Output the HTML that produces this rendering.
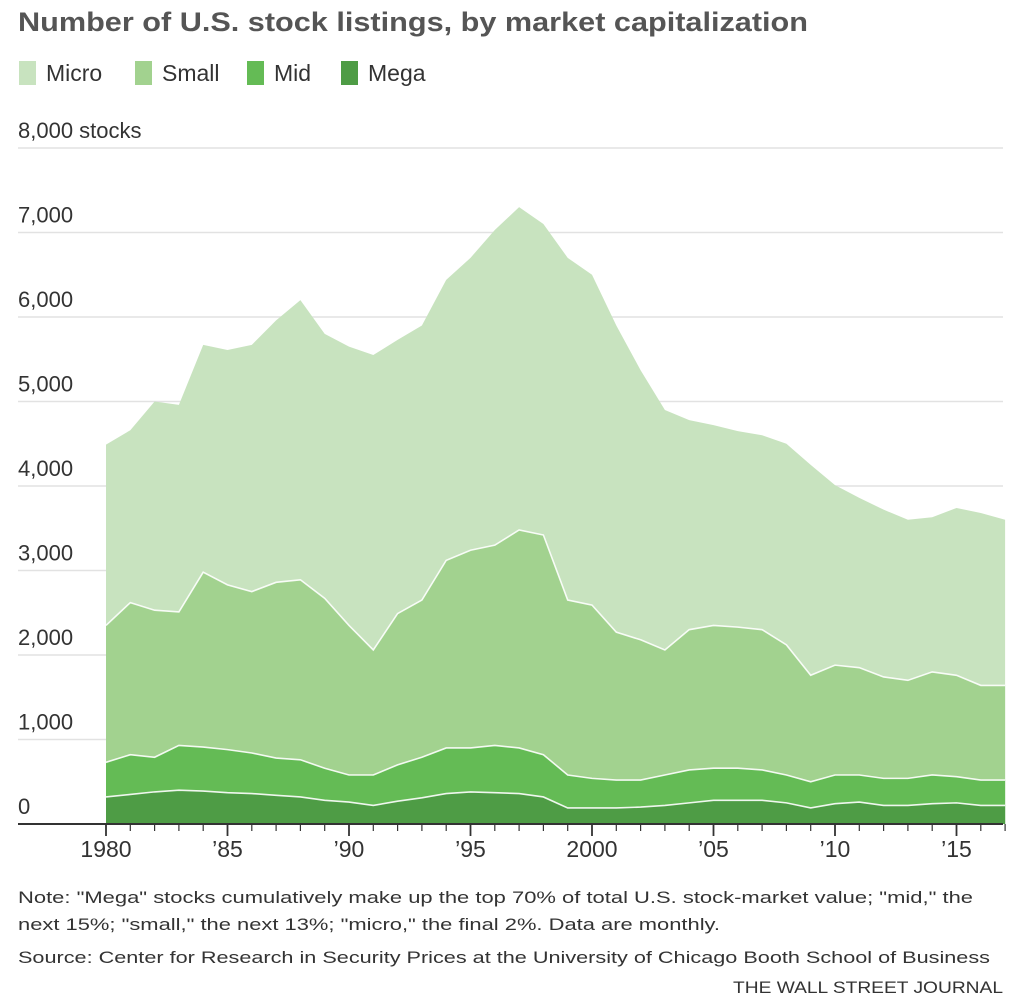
<!DOCTYPE html>
<html><head><meta charset="utf-8"><style>
html,body{margin:0;padding:0;background:#fff;}
svg{display:block;font-family:"Liberation Sans",sans-serif;}
</style></head><body>
<svg id="chart" width="1024" height="1005" viewBox="0 0 1024 1005">
<text x="18" y="31" font-size="27" font-weight="bold" fill="#555" textLength="790" lengthAdjust="spacingAndGlyphs">Number of U.S. stock listings, by market capitalization</text>
<g>
<rect x="19" y="61" width="17" height="24" fill="#c8e3bf"/>
<text x="46" y="81" font-size="23" fill="#333">Micro</text>
<rect x="135" y="61" width="17" height="24" fill="#a2d28f"/>
<text x="162" y="81" font-size="23" fill="#333">Small</text>
<rect x="247" y="61" width="17" height="24" fill="#64bb55"/>
<text x="274" y="81" font-size="23" fill="#333">Mid</text>
<rect x="341" y="61" width="17" height="24" fill="#4e9c45"/>
<text x="368" y="81" font-size="23" fill="#333">Mega</text>
</g>
<g id="grid"></g>
<g id="areas"></g>
<g id="axis"></g>
<g font-size="17" fill="#333">
<text x="18" y="903" textLength="955" lengthAdjust="spacingAndGlyphs">Note: "Mega" stocks cumulatively make up the top 70% of total U.S. stock-market value; "mid," the</text>
<text x="18" y="930" textLength="702" lengthAdjust="spacingAndGlyphs">next 15%; "small," the next 13%; "micro," the final 2%. Data are monthly.</text>
<text x="18" y="963" textLength="972" lengthAdjust="spacingAndGlyphs">Source: Center for Research in Security Prices at the University of Chicago Booth School of Business</text>
<text x="1003" y="993" text-anchor="end" textLength="270" lengthAdjust="spacingAndGlyphs">THE WALL STREET JOURNAL</text>
</g>
</svg>
<script>
const years = [1980,1981,1982,1983,1984,1985,1986,1987,1988,1989,1990,1991,1992,1993,1994,1995,1996,1997,1998,1999,2000,2001,2002,2003,2004,2005,2006,2007,2008,2009,2010,2011,2012,2013,2014,2015,2016,2017];
// cumulative stack tops
const totalLevel = [4490,4660,5000,4960,5670,5610,5670,5960,6200,5800,5650,5550,5730,5900,6440,6700,7030,7300,7100,6700,6500,5900,5370,4900,4780,4720,4650,4600,4500,4250,4010,3860,3720,3600,3630,3740,3680,3600];
const smallLevel = [2350,2620,2530,2510,2980,2830,2750,2860,2890,2670,2350,2060,2490,2650,3120,3240,3300,3480,3420,2650,2590,2270,2180,2060,2300,2350,2330,2300,2120,1760,1880,1850,1740,1700,1800,1760,1640,1640];
const midLevel = [730,820,790,930,910,880,840,780,760,660,580,580,700,790,900,900,930,900,820,580,540,520,520,580,640,660,660,640,580,500,580,580,540,540,580,560,520,520];
const megaLevel = [320,350,380,400,390,370,360,340,320,280,260,220,270,310,360,380,370,360,320,190,190,190,200,220,250,280,280,280,250,190,240,260,220,220,240,250,220,220];
const yTicks = [0,1000,2000,3000,4000,5000,6000,7000,8000];
const yTickLabels = ["0","1,000","2,000","3,000","4,000","5,000","6,000","7,000","8,000 stocks"];
const xTicks = [1980,1985,1990,1995,2000,2005,2010,2015];
const xTickLabels = ["1980","\u201985","\u201990","\u201995","2000","\u201905","\u201910","\u201915"];

const NS="http://www.w3.org/2000/svg";
const x0=106, pxPerYear=24.3, y0=824, pxPerUnit=84.5/1000;
function xs(yr){return x0+(yr-1980)*pxPerYear;}
function ys(v){return y0-v*pxPerUnit;}
function mk(tag,attrs,parent){const e=document.createElementNS(NS,tag);for(const k in attrs)e.setAttribute(k,attrs[k]);parent.appendChild(e);return e;}

const grid=document.getElementById('grid');
yTicks.forEach((t,i)=>{
  const l=mk('line',{x1:18,x2:1003,y1:ys(t),y2:ys(t),stroke:'#e2e2e2','stroke-width':1.5},grid);
  
  
  const tx=mk('text',{x:18,y:ys(t)-10,'font-size':22,fill:'#333'},grid);
  tx.textContent=yTickLabels[i];
  
  
});

const areas=document.getElementById('areas');
const layers=[
  {name:'micro',top:totalLevel,color:'#c8e3bf'},
  {name:'small',top:smallLevel,color:'#a2d28f'},
  {name:'mid',top:midLevel,color:'#64bb55'},
  {name:'mega',top:megaLevel,color:'#4e9c45'}
];
layers.forEach(L=>{
  let d='M'+xs(years[0])+','+ys(0);
  years.forEach((yr,i)=>{d+=' L'+xs(yr)+','+ys(L.top[i]);});
  d+=' L'+xs(years[years.length-1])+','+ys(0)+' Z';
  const p=mk('path',{d:d,fill:L.color},areas);
  
  
});
layers.slice(1).forEach(L=>{
  let d='';
  years.forEach((yr,i)=>{d+=(i?' L':'M')+xs(yr)+','+ys(L.top[i]);});
  const p=mk('path',{d:d,fill:'none',stroke:'#fff','stroke-width':1.6,'stroke-opacity':0.9},areas);
  
  
});

const axis=document.getElementById('axis');
const al=mk('line',{x1:18,x2:1003,y1:y0,y2:y0,stroke:'#333','stroke-width':2},axis);


for(let yr=1980;yr<=2017;yr++){
  const major=xTicks.indexOf(yr)>=0;
  const t=mk('line',{x1:xs(yr),x2:xs(yr),y1:y0,y2:y0+(major?12:7),stroke:'#333','stroke-width':major?1.8:1.2},axis);
  
  
}
xTicks.forEach((yr,i)=>{
  const t=mk('text',{x:xs(yr),y:y0+33,'font-size':23,fill:'#333','text-anchor':'middle'},axis);
  t.textContent=xTickLabels[i];
  
  
});
</script>
</body></html>
